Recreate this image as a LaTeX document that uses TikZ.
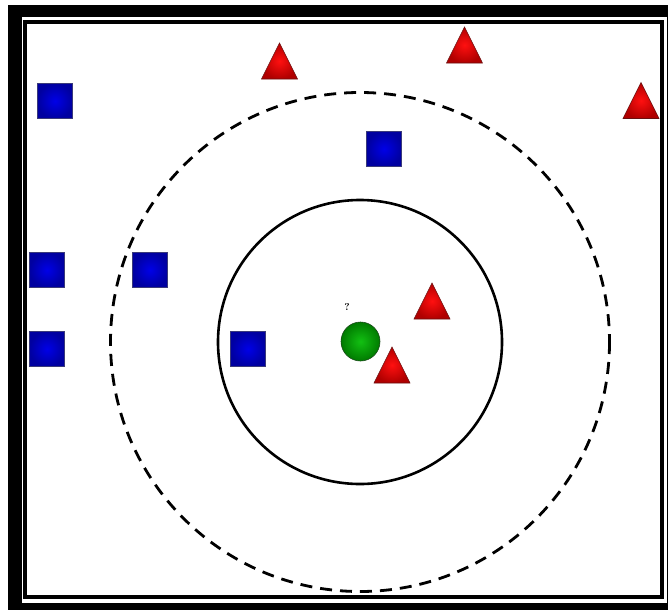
\documentclass[tikz,border=0pt]{standalone}
\usepackage{xcolor}
\usepackage{tikz}
\usetikzlibrary{shapes.geometric, positioning, calc}
\definecolor{sqin}{HTML}{0000E8}
\definecolor{sqout}{HTML}{0000A0}
\definecolor{sqdraw}{HTML}{3A3A7A}
\definecolor{trin}{HTML}{FF1010}
\definecolor{trout}{HTML}{B00000}
\definecolor{trdraw}{HTML}{6A1010}
\definecolor{qin}{HTML}{12C012}
\definecolor{qout}{HTML}{007A00}
\definecolor{qdraw}{HTML}{1A4A1A}
\tikzset{
  sq/.style={rectangle, minimum size=35pt, inner sep=0pt, line width=0.6pt, draw=sqdraw, inner color=sqin, outer color=sqout},
  tri/.style={line width=0.6pt, draw=trdraw, inner color=trin, outer color=trout},
  query/.style={circle, minimum size=39pt, inner sep=0pt, line width=0.6pt, draw=qdraw, inner color=qin, outer color=qout},
  kring/.style={line width=2.6pt, draw=black},
  kdash/.style={line width=2.8pt, draw=black, dash pattern=on 12pt off 8pt},
  qlab/.style={font=\normalsize\bfseries, inner sep=0pt},
}
% red class: triangle centred on a named point
\newcommand{\redtri}[1]{\shade[tri] ($(#1)+(-18,18)$) -- ($(#1)+(0,-18)$) -- ($(#1)+(18,18)$) -- cycle;}

\begin{document}
\begin{tikzpicture}[x=1pt, y=-1pt]
  \useasboundingbox (0,0) rectangle (668,610);
  % frame
  \fill[black] (8,5) rectangle (668,610);
  \fill[white] (22,17) rectangle (667,603);
  \draw[line width=4pt] (24.5,22) rectangle (661.5,597);

  % neighbourhood rings
  \coordinate (c) at (360,342);
  \draw[kdash] (c) circle (249.5);
  \draw[kring] (c) circle (142);

  % blue class
  \node[sq] (s1) at (55,101) {};
  \node[sq] (s2) at (384,149) {};
  \node[sq] (s3) at (47,270) {};
  \node[sq] (s4) at (150,270) {};
  \node[sq] (s5) at (47,349) {};
  \node[sq] (s6) at (248,349) {};

  % red class
  \coordinate (t1) at (279.5,61);
  \coordinate (t2) at (464.5,45);
  \coordinate (t3) at (641,100.5);
  \coordinate (t4) at (432,301);
  \coordinate (t5) at (392,365);
  \redtri{t1}
  \redtri{t2}
  \redtri{t3}
  \redtri{t4}
  \redtri{t5}

  % query point
  \node[query] (q) at (360.5,341.5) {};
  \node[qlab] (qm) at (347,307) {?};
\end{tikzpicture}
\end{document}
